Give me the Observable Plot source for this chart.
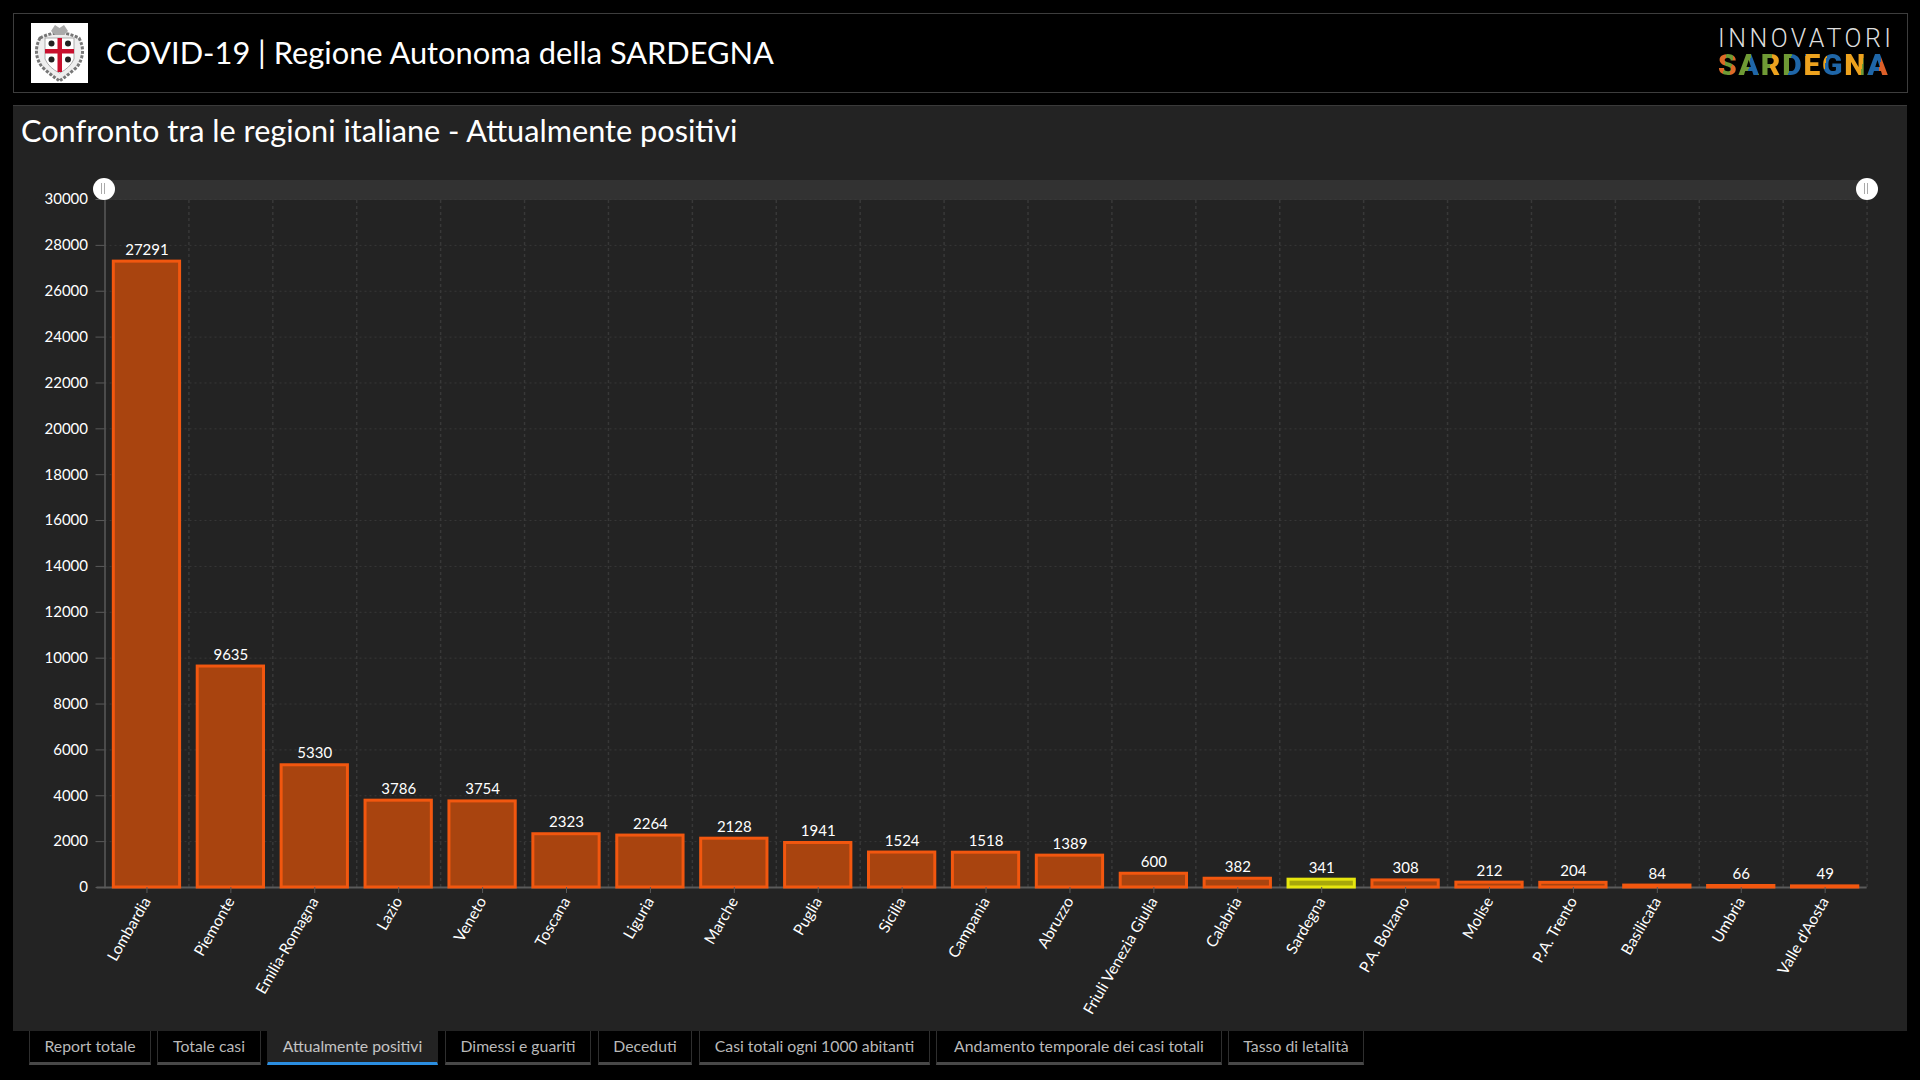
<!DOCTYPE html>
<html lang="it">
<head>
<meta charset="utf-8">
<title>COVID-19 | Regione Autonoma della SARDEGNA</title>
<script src="https://cdn.jsdelivr.net/npm/d3@7"></script>
<script src="https://cdn.jsdelivr.net/npm/@observablehq/plot@0.6"></script>
<style>
  html,body{margin:0;padding:0;width:1920px;height:1080px;overflow:hidden;background:#000;color:#fff;font-family:Lato,"Open Sans",sans-serif}
  .abs{position:absolute;box-sizing:border-box}
  #header{left:13px;top:13px;width:1895px;height:80px;border:1px solid #3d3d3d;background:#000}
  #crest{left:31px;top:23px;width:57px;height:60px;background:#fff}
  #title{left:106px;top:30px;font-size:30.8px;line-height:46px;white-space:nowrap;color:#fff}
  #inn{left:1718px;top:27px;font-family:Roboto,sans-serif;font-weight:300;font-size:25px;line-height:24px;letter-spacing:3.5px;color:#ddd;white-space:nowrap}
  #sar{left:1718px;top:52px;width:172px;font-family:Roboto,sans-serif;font-weight:900;font-size:30px;line-height:26px;letter-spacing:1.8px;white-space:nowrap;
    background:linear-gradient(100deg,#de6a27 0 5%,#6f9a35 5% 9%,#de6a27 9% 13%,#6f9a35 13% 19%,#1f66a8 19% 25%,#6f9a35 25% 31%,#eda21e 31% 37%,#6f9a35 37% 42%,#1f66a8 42% 50%,#eda21e 50% 62%,#1f66a8 62% 73%,#eda21e 73% 83%,#6f9a35 83% 87%,#1f66a8 87% 93%,#dd5f28 93% 100%);
    -webkit-background-clip:text;background-clip:text;color:transparent}
  #panel{left:13px;top:105px;width:1894px;height:926px;background:#232323;border-top:1px solid #3a3a3a}
  #subtitle{left:21px;top:108px;font-size:30.7px;line-height:46px;white-space:nowrap;color:#fff}
  #chart{left:0;top:140px}
  #chart svg{display:block;background:transparent}
  #band{left:104px;top:180px;width:1763px;height:20px;background:#323232}
  .handle{width:22px;height:22px;border-radius:50%;background:#fff;top:178px}
  .handle::after{content:"";position:absolute;left:8px;top:5px;width:4px;height:11px;border-left:1px solid #aaa;border-right:1px solid #aaa;box-sizing:border-box}
  .tab{top:1031px;height:34px;background:#000;border:1px solid #2e2e2e;border-top:none;border-bottom:3px solid #484848;color:#b9b9b9;font-size:15.8px;line-height:30px;text-align:center;white-space:nowrap}
  .tab.on{background:#232323;border-color:#232323;border-bottom:3px solid #2b8ee0;color:#c4c4c4}
</style>
</head>
<body>
<div class="abs" id="header"></div>
<div class="abs" id="crest">
  <svg width="57" height="60" viewBox="0 0 57 60">
    <path d="M9 15 Q28 5 48 15 Q56 30 46 44 Q37 52 28.5 58 Q20 52 11 44 Q1 30 9 15Z" fill="#eee" stroke="#777" stroke-width="3" stroke-dasharray="3 1.5"/>
    <path d="M20 8 L24 2 L28.5 5 L33 2 L37 8 L33 12 H24Z" fill="#aaa"/>
    <path d="M14 15 H43 V36 Q39 45 28.5 50 Q18 45 14 36Z" fill="#fff" stroke="#999" stroke-width=".8"/>
    <rect x="26.5" y="15" width="4.5" height="34" fill="#c8102e"/>
    <rect x="14" y="26" width="29" height="4.5" fill="#c8102e"/>
    <g fill="#222"><circle cx="20.5" cy="20.5" r="3"/><circle cx="37" cy="20.5" r="3"/><circle cx="20.5" cy="36.5" r="3"/><circle cx="37" cy="36.5" r="3"/></g>
  </svg>
</div>
<div class="abs" id="title">COVID-19 | Regione Autonoma della SARDEGNA</div>
<div class="abs" id="inn">INNOVATORI</div>
<div class="abs" id="sar">SARDEGNA</div>
<div class="abs" id="panel"></div>
<div class="abs" id="subtitle">Confronto tra le regioni italiane - Attualmente positivi</div>
<div class="abs" id="band"></div>
<div class="abs" id="chart"></div>
<div class="abs handle" style="left:93px"></div>
<div class="abs handle" style="left:1856px"></div>
<div id="tabs"></div>

<script>
const regions = ["Lombardia","Piemonte","Emilia-Romagna","Lazio","Veneto","Toscana","Liguria","Marche","Puglia","Sicilia","Campania","Abruzzo","Friuli Venezia Giulia","Calabria","Sardegna","P.A. Bolzano","Molise","P.A. Trento","Basilicata","Umbria","Valle d'Aosta"];
const positivi = [27291,9635,5330,3786,3754,2323,2264,2128,1941,1524,1518,1389,600,382,341,308,212,204,84,66,49];
const yTicks = [0,2000,4000,6000,8000,10000,12000,14000,16000,18000,20000,22000,24000,26000,28000,30000];
const highlight = "Sardegna";
const tabLabels = ["Report totale","Totale casi","Attualmente positivi","Dimessi e guariti","Deceduti","Casi totali ogni 1000 abitanti","Andamento temporale dei casi totali","Tasso di letalità"];
const tabEdges = [[29,151],[157,261],[267,438],[445,591],[598,692],[699,930],[936,1222],[1228,1364]];
const activeTab = 2;

tabLabels.forEach((t,i)=>{
  const d=document.createElement("div");
  d.className="abs tab"+(i===activeTab?" on":"");
  d.style.left=tabEdges[i][0]+"px";
  d.style.width=(tabEdges[i][1]-tabEdges[i][0])+"px";
  d.textContent=t;
  document.getElementById("tabs").appendChild(d);
});

const rows = regions.map((region,i)=>({region,value:positivi[i]}));
const mL=104.5, mR=53.4, W=1920;
const step=(W-mL-mR)/regions.length;
const gridColor="#383838", axisColor="#5a5a5a";
const barOpts = {x:"region",y:"value",strokeWidth:3};

const chart = Plot.plot({
  width:W, height:890,
  marginLeft:mL, marginRight:mR, marginTop:59, marginBottom:143,
  style:{background:"transparent",color:"#fff",fontFamily:"Lato,sans-serif",overflow:"visible"},
  x:{type:"band",domain:regions,paddingInner:0.21,paddingOuter:0.105,round:false},
  y:{domain:[0,30000]},
  marks:[
    Plot.gridY(yTicks,{stroke:gridColor,strokeOpacity:1,strokeDasharray:"2 3",strokeWidth:1}),
    Plot.ruleX(regions,{x:d=>d,dx:step/2,y1:0,y2:30000,stroke:gridColor,strokeDasharray:"3 3",strokeWidth:1.5}),
    Plot.frame({anchor:"left",stroke:axisColor,strokeWidth:1.5}),
    Plot.ruleY([0],{stroke:axisColor,strokeWidth:2,insetLeft:-8}),
    Plot.barY(rows,{...barOpts,filter:d=>d.region!==highlight,fill:"#a9440f",stroke:"#f2570f"}),
    Plot.barY(rows,{...barOpts,filter:d=>d.region===highlight,fill:"#a8a80a",stroke:"#e6e60e"}),
    Plot.text(rows,{x:"region",y:"value",text:d=>String(d.value),dy:-7,lineAnchor:"bottom",fill:"#fff",fontSize:15}),
    Plot.axisY(yTicks,{tickFormat:d=>String(d),tickSize:9,tickPadding:8,stroke:axisColor,fill:"#fff",fontSize:15,label:null}),
    Plot.axisX({tickRotate:-60,tickSize:6,tickPadding:5,stroke:axisColor,fill:"#fff",fontSize:15.5,label:null})
  ]
});
document.getElementById("chart").appendChild(chart);
</script>
</body>
</html>
